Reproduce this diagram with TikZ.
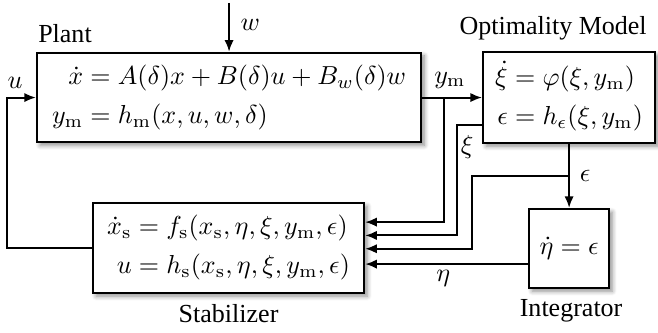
\documentclass[tikz,border=0pt]{standalone}
\usepackage{amsmath}
\usepackage[no-math]{fontspec}
\newfontfamily\labelfont{Liberation Serif}
\usetikzlibrary{arrows.meta,positioning,calc,shadows.blur}

\begin{document}
\begin{tikzpicture}[
    blockbox/.style={draw,thick,fill=white,inner sep=2pt,
      blur shadow={shadow xshift=1.2pt,shadow yshift=-1.2pt,
        shadow blur steps=6,shadow opacity=45}},
    sig/.style={thick,-{Latex[length=4.5pt,width=3.6pt]}},
    title/.style={font=\labelfont}]
  \useasboundingbox (0,0) rectangle (8.89,-4.486);
  %% Plant
  \node[blockbox,minimum width=5.19cm,minimum height=1.21cm]
        (plant) at (3.095,-1.318)
        {$\begin{aligned}\dot{x}&=A(\delta)x+B(\delta)u+B_w(\delta)w\\
          y_\mathrm{m}&=h_\mathrm{m}(x,u,w,\delta)\end{aligned}$\hspace{2pt}};
  \node[title] (plantlbl) at (0.878,-0.453) {Plant};
  %% Optimality Model
  \node[blockbox,minimum width=2.324cm,minimum height=1.23cm]
        (opt) at (7.689,-1.318)
        {$\begin{aligned}\dot{\xi}&=\varphi(\xi,y_\mathrm{m})\\
          \epsilon&=h_\epsilon(\xi,y_\mathrm{m})\end{aligned}$};
  \node[title] (optlbl) at (7.473,-0.378) {Optimality Model};
  %% Stabilizer
  \node[blockbox,minimum width=3.662cm,minimum height=1.216cm]
        (stab) at (3.088,-3.351)
        {$\begin{aligned}\dot{x}_\mathrm{s}&=f_\mathrm{s}(x_\mathrm{s},\eta,\xi,y_\mathrm{m},\epsilon)\\
          u&=h_\mathrm{s}(x_\mathrm{s},\eta,\xi,y_\mathrm{m},\epsilon)\end{aligned}$\hspace{3pt}};
  \node[title] (stablbl) at (3.088,-4.243) {Stabilizer};
  %% Integrator
  \node[blockbox,minimum width=1.081cm,minimum height=1.068cm]
        (integ) at (7.689,-3.358) {$\dot{\eta}=\epsilon$};
  \node[title] (integlbl) at (7.716,-4.2) {Integrator};

  %% signals
  \coordinate (wsrc) at (3.095,-0.04);
  \draw[sig] (wsrc) -- (plant.north);
  \node (wlbl) at (3.38,-0.34) {$w$};

  \draw[sig] (stab.west) -- ++(-1.149,0) |- (plant.west);
  \node (ulbl) at (0.203,-1.12) {$u$};

  \draw[sig] (plant.east) -- (opt.west);
  \node (ymlbl) at (6.08,-1.08) {$y_\mathrm{m}$};
  \coordinate (ymsplit) at (6.0,-1.318);
  \draw[sig] (ymsplit) |- ([yshift=0.35cm]stab.east);

  \draw[sig] ([yshift=-0.37cm]opt.west) -- ++(-0.338,0)
        |- ([yshift=0.17cm]stab.east);
  \node (xilbl) at (6.31,-1.99) {$\xi$};

  \draw[sig] (opt.south) -- (integ.north);
  \node (epslbl) at (7.905,-2.378) {$\epsilon$};
  \coordinate (epssplit) at (7.689,-2.378);
  \draw[sig] (epssplit) -- ++(-1.311,0) |- ([yshift=-0.01cm]stab.east);

  \draw[sig] ([yshift=-0.21cm]integ.west) -- ([yshift=-0.21cm]integ.west -| stab.east);
  \node (etalbl) at (5.99,-3.757) {$\eta$};
\end{tikzpicture}
\end{document}
